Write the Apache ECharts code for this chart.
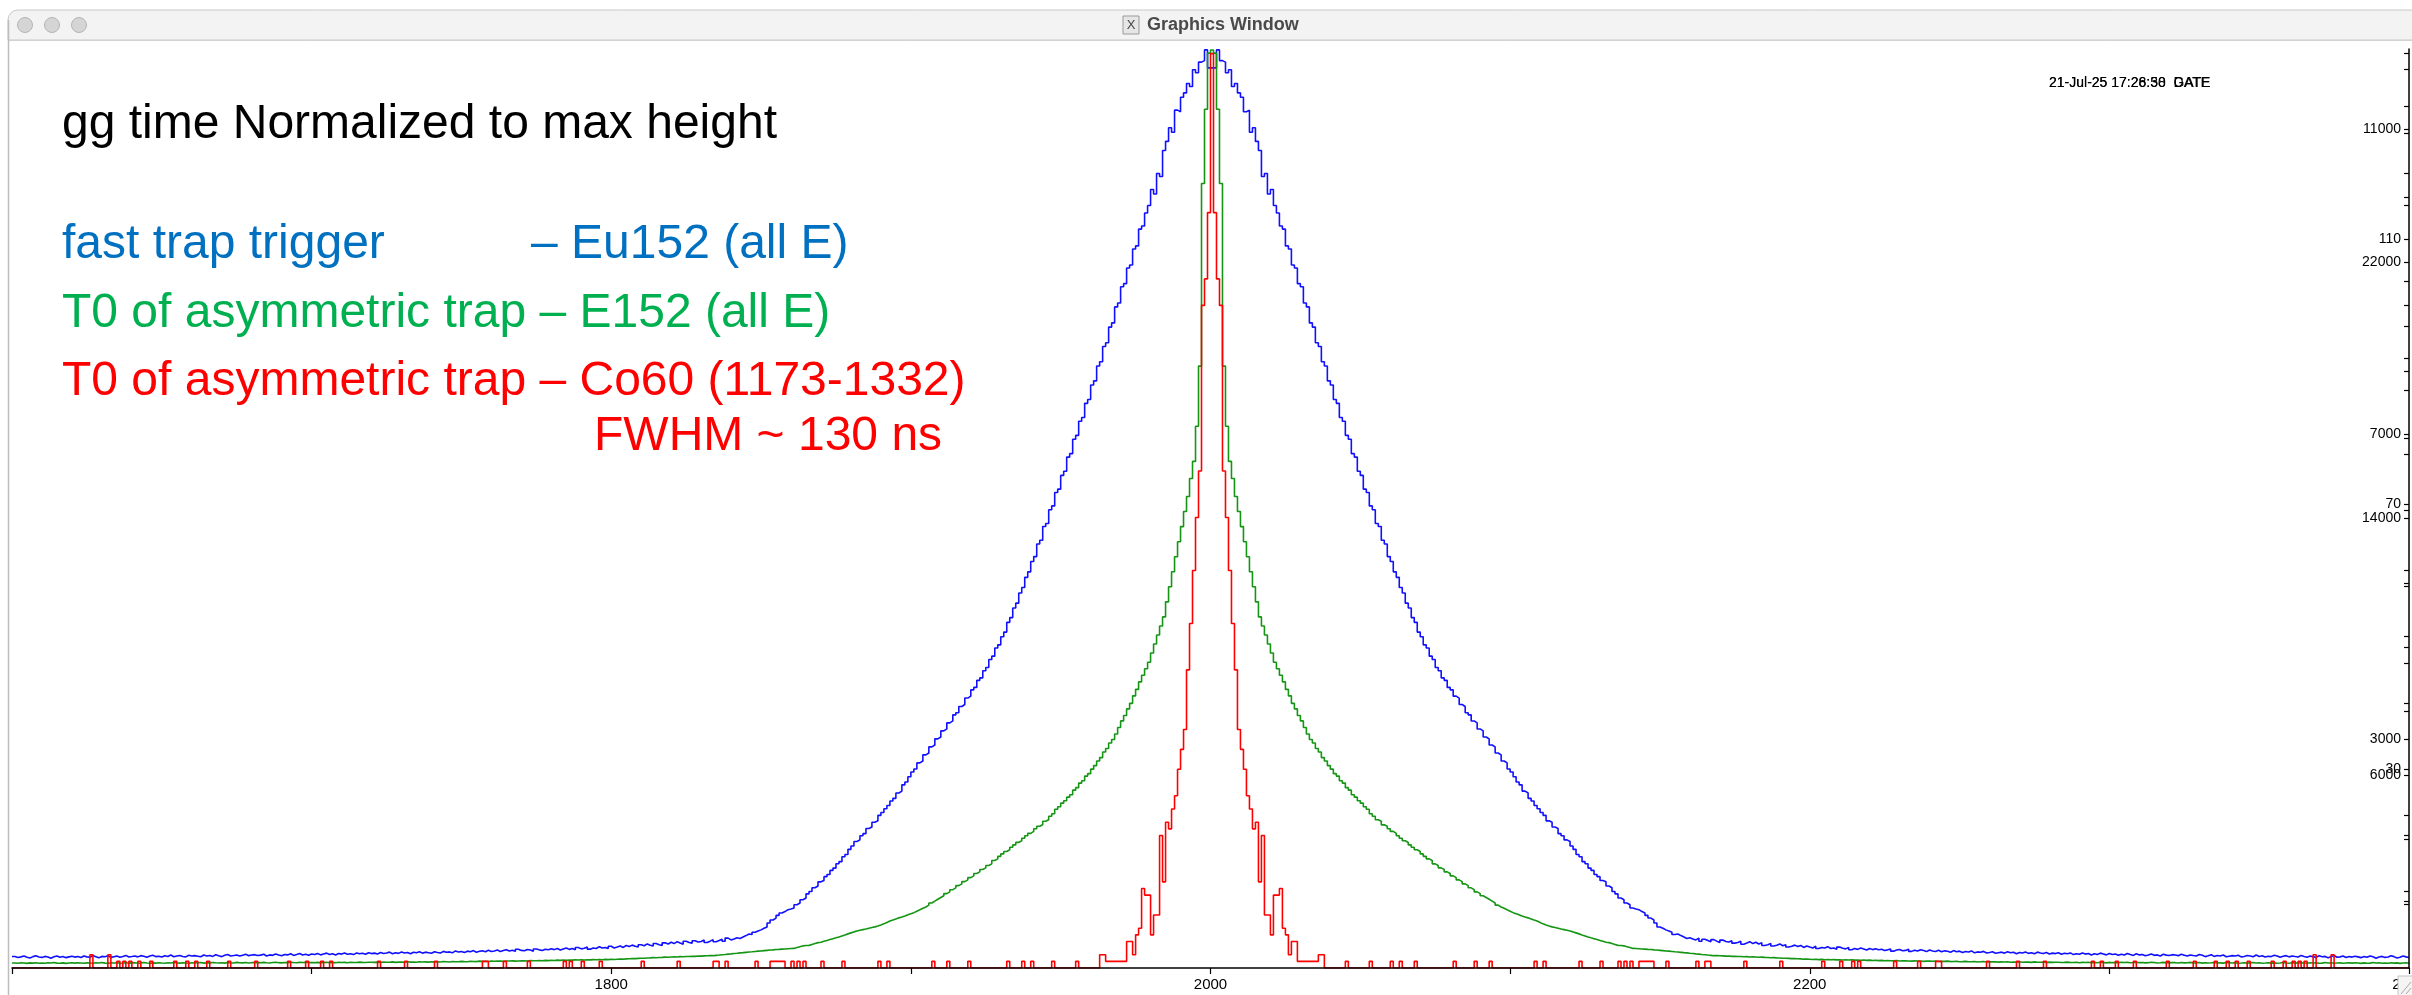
<!DOCTYPE html>
<html><head><meta charset="utf-8">
<script src="https://cdn.jsdelivr.net/npm/echarts@6/dist/echarts.min.js"></script>
<style>html,body{margin:0;padding:0;background:#fff;overflow:hidden;} #c{width:2412px;height:995px;}</style>
</head><body><div id="c"></div>
<script>
// ---- axis / tick data ----
const binStart = 1600, binCenter = 2000, binEnd = 2400;
const xTickLabels = [1800, 2000, 2200, 2400];
const yLabelsA = [3000, 7000, 11000];
const yLabelsB = [6000, 14000, 22000];
const yLabelsC = [30, 70, 110];

// ---- histogram contents, bins 1600..2000 (gg time difference histograms are symmetric about bin 2000) ----
const blueLeft = [
150,138,146,157,141,132,149,161,144,139,152,145,128,147,158,140,151,136,146,155,
143,150,137,158,146,141,163,149,135,152,147,160,139,148,156,142,151,165,144,150,
158,146,162,153,140,157,166,149,155,143,161,152,170,147,158,164,151,146,167,157,
162,155,148,170,158,165,152,174,160,149,167,176,158,163,171,156,168,179,162,170,
175,163,169,181,158,172,166,184,170,161,178,172,186,165,176,190,171,180,168,183,
177,189,172,184,195,176,186,171,191,182,197,180,188,176,198,186,193,181,200,189,
195,184,202,190,197,208,186,199,192,210,196,204,187,206,199,214,195,208,201,193,
212,203,196,218,206,211,199,224,209,216,204,221,212,228,207,219,225,213,232,217,
224,236,215,229,240,222,233,218,245,231,226,242,235,221,249,238,230,246,239,252,
241,256,236,249,262,244,255,240,268,251,258,274,247,263,256,280,262,270,255,285,
262,274,288,270,295,281,300,286,276,305,292,316,298,288,322,306,296,330,314,338,
320,345,328,312,350,334,326,358,340,348,366,335,352,372,344,360,378,350,392,368,
380,396,388,407,425,446,440,468,485,500,522,538,590,630,655,690,721,740,765,775,
787,830,852,896,918,972,1003,1052,1076,1130,1148,1198,1226,1280,1310,1368,1395,1458,1488,1556,
1600,1658,1680,1735,1762,1830,1850,1912,1930,2002,2040,2088,2132,2190,2225,2295,2320,2402,2440,2508,
2571,2610,2690,2715,2795,2820,2900,2925,3005,3030,3110,3135,3215,3240,3320,3348,3430,3455,3540,3565,
3648,3680,3772,3805,3898,3940,4046,4090,4196,4238,4344,4405,4533,4595,4722,4785,4918,4990,5123,5195,
5330,5395,5560,5610,5790,5830,6010,6060,6235,6280,6460,6515,6700,6745,6935,6985,7170,7220,7405,7455,
7645,7700,7895,7950,8150,8200,8405,8460,8670,8720,8935,8975,9180,9220,9430,9470,9690,9730,9902,10000,
10210,10150,10420,10380,10720,10840,11020,10960,11250,11230,11420,11476,11600,11560,11780,11740,11880,11900,12040,11804,
11804
];
const greenLeft = [
156,150,162,156,144,159,153,166,150,156,147,162,156,169,153,150,159,144,156,162,
153,165,156,147,160,156,150,163,156,169,153,147,159,156,162,150,156,166,153,159,
162,150,156,169,156,147,160,153,166,156,150,162,156,172,159,153,163,156,150,166,
156,163,169,153,160,156,172,163,156,166,153,169,160,156,175,163,160,169,156,166,
172,160,166,175,163,156,169,178,166,160,172,166,181,169,163,175,169,178,166,172,
166,175,160,169,178,163,172,166,181,169,175,163,178,172,169,184,175,172,181,178,
175,184,172,188,178,181,191,175,184,188,181,194,184,188,178,197,188,191,184,194,
191,197,188,200,194,188,203,197,194,206,200,197,209,203,200,213,206,209,203,216,
209,216,213,206,219,216,222,213,219,228,222,216,231,225,228,234,225,238,231,241,
234,244,238,247,241,250,244,253,247,256,250,259,253,262,256,266,259,269,262,272,
266,272,278,275,284,288,294,291,300,306,303,313,316,322,319,328,331,338,334,344,
347,344,353,350,359,356,366,363,372,369,378,381,388,384,394,403,413,420,431,440,
453,460,472,478,488,497,506,516,525,531,541,550,559,566,575,581,588,594,600,606,
610,640,665,690,700,705,735,765,790,800,830,858,886,914,941,969,1000,1031,1063,1094,
1125,1150,1175,1195,1215,1240,1262,1281,1310,1340,1375,1420,1462,1495,1530,1562,1590,1622,1655,1690,
1725,1770,1815,1862,1900,1960,2025,2085,2140,2195,2250,2318,2372,2440,2498,2566,2620,2692,2745,2815,
2870,2945,2995,3070,3120,3195,3245,3350,3400,3478,3555,3630,3682,3760,3835,3912,3962,4040,4118,4195,
4255,4338,4415,4460,4570,4618,4728,4805,4945,5022,5135,5210,5322,5398,5540,5618,5760,5835,5978,6055,
6195,6305,6448,6555,6728,6838,7010,7118,7290,7492,7698,7868,8072,8245,8478,8680,8915,9118,9322,9525,
9813,10094,10375,10656,10938,11406,11875,12344,12813,13281,13750,14219,14688,15250,15781,16875,18750,24438,26750,28500,
28600
];
// red (Co60): isolated single counts in the tail [bin, count], and the dense core from bin 1963 to 2000
const redTail = [[1626,2],[1632,2],[1635,1],[1637,1],[1639,1],[1642,1],[1646,1],[1654,1],[1658,1],[1661,1],[1665,1],
[1672,1],[1681,1],[1692,1],[1698,1],[1703,1],[1706,1],[1722,1],[1731,1],[1741,1],[1757,1],[1758,1],[1764,1],[1772,1],
[1784,1],[1786,1],[1790,1],[1796,1],[1810,1],[1822,1],[1834,1],[1835,1],[1838,1],[1848,1],[1853,1],[1854,1],[1855,1],
[1856,1],[1857,1],[1860,1],[1862,1],[1864,1],[1870,1],[1877,1],[1889,1],[1892,1],[1907,1],[1912,1],[1919,1],[1932,1],
[1937,1],[1940,1],[1947,1],[1955,1]];
const redCoreStart = 1963;
const redCore = [2,2,1,1,1,1,1,1,1,4,4,2,5,6,12,11,11,5,8,8,20,13,22,21,24,26,30,33,36,45,52,60,68,75,100,104,114,138];

// ---- build full histograms ----
const nLeft = binCenter - binStart + 1;
const redLeft = new Array(nLeft).fill(0);
redTail.forEach(([b, c]) => { redLeft[b - binStart] = c; });
redCore.forEach((c, i) => { redLeft[redCoreStart + i - binStart] = c; });

function fullHist(left) {
  const out = [];
  for (let b = binStart; b < binEnd; b++) {
    const src = b <= binCenter ? b : 2 * binCenter - b;
    out.push([b, left[src - binStart]]);
  }
  out.push([binEnd, out[out.length - 1][1]]);
  return out;
}

const FONT = '"Liberation Sans", Arial, Helvetica, sans-serif';
const chart = echarts.init(document.getElementById('c'), null, {renderer: 'canvas'});

function yAxisDef(max, interval, labels, showLine) {
  return {
    type: 'value', position: 'right', offset: 0, min: 0, max: max, interval: interval,
    axisLine: {show: showLine, onZero: false, lineStyle: {color: '#000', width: 1.5}},
    axisTick: {show: true, inside: true, length: 5, lineStyle: {color: '#000', width: 1.2}},
    axisLabel: {inside: true, margin: 8, fontSize: 14, color: '#000', fontFamily: FONT,
      showMinLabel: false, showMaxLabel: false,
      formatter: v => labels.indexOf(Math.round(v)) >= 0 ? String(Math.round(v)) : ''},
    splitLine: {show: false}, z: 10
  };
}

const grafs = [];
// window chrome
grafs.push({type: 'rect', shape: {x: 8, y: 10, width: 2420, height: 30, r: [10, 10, 0, 0]},
  style: {fill: '#f3f3f3', stroke: '#c9c9c9', lineWidth: 1}, z: 100});
grafs.push({type: 'line', shape: {x1: 8, y1: 40.5, x2: 2412, y2: 40.5}, style: {stroke: '#d2d2d2', lineWidth: 1}, z: 101});
grafs.push({type: 'line', shape: {x1: 8.5, y1: 20, x2: 8.5, y2: 995}, style: {stroke: '#bdbdbd', lineWidth: 1.5}, z: 101});
[25, 52, 79].forEach(cx => grafs.push({type: 'circle', shape: {cx: cx, cy: 25, r: 7.5},
  style: {fill: '#d5d5d5', stroke: '#b5b5b5', lineWidth: 1}, z: 102}));
grafs.push({type: 'rect', shape: {x: 1123, y: 16, width: 16, height: 18}, style: {fill: '#e6e6e6', stroke: '#9a9a9a', lineWidth: 1}, z: 102});
grafs.push({type: 'text', style: {text: 'X', x: 1131, y: 25.5, font: '13px ' + FONT, fill: '#444', align: 'center', verticalAlign: 'middle', textAlign: 'center', textVerticalAlign: 'middle'}, z: 103});
grafs.push({type: 'text', style: {text: 'Graphics Window', x: 1147, y: 25.5, font: 'bold 18px ' + FONT, fill: '#4a4a4a', align: 'left', verticalAlign: 'middle', textAlign: 'left', textVerticalAlign: 'middle'}, z: 103});
// resize grip
grafs.push({type: 'rect', shape: {x: 2398, y: 976, width: 16, height: 20}, style: {fill: '#f4f4f4', stroke: '#c4c4c4', lineWidth: 1}, z: 100});
grafs.push({type: 'line', shape: {x1: 2401, y1: 994, x2: 2411, y2: 982}, style: {stroke: '#a8a8a8', lineWidth: 1}, z: 101});
grafs.push({type: 'line', shape: {x1: 2406, y1: 994, x2: 2411, y2: 988}, style: {stroke: '#a8a8a8', lineWidth: 1}, z: 101});
// annotations
function txt(text, x, y, size, color) {
  grafs.push({type: 'text', z: 50, style: {text: text, x: x, y: y, font: size + 'px ' + FONT, fill: color,
    align: 'left', verticalAlign: 'middle', textAlign: 'left', textVerticalAlign: 'middle'}});
}
txt('gg time Normalized to max height', 62, 125, 48, '#000000');
txt('fast trap trigger', 62, 245, 48, '#0070C0');
txt('\u2013 Eu152 (all E)', 531, 245, 48, '#0070C0');
txt('T0 of asymmetric trap \u2013 E152 (all E)', 62, 314, 48, '#00B050');
txt('T0 of asymmetric trap \u2013 Co60 (1173-1332)', 62, 382, 48, '#FF0000');
txt('FWHM ~ 130 ns', 594, 437, 48, '#FF0000');
txt('21-Jul-25 17:26:58  DATE', 2049, 83, 14, '#000');
txt('21-Jul-25 17:28:30  GATE', 2049, 83, 14, '#000');

const option = {
  backgroundColor: '#ffffff',
  animation: false,
  grid: {left: 12, right: 3, top: 49, bottom: 27, containLabel: false, outerBoundsMode: 'none'},
  xAxis: {
    type: 'value', min: binStart, max: binEnd, interval: 100,
    axisLine: {show: true, onZero: false, lineStyle: {color: '#000', width: 1.5}},
    axisTick: {show: true, length: 6, lineStyle: {color: '#000', width: 1.2}},
    axisLabel: {fontSize: 15, color: '#000', margin: 9, fontFamily: FONT,
      formatter: v => xTickLabels.indexOf(v) >= 0 ? String(v) : ''},
    splitLine: {show: false}, z: 10
  },
  yAxis: [
    yAxisDef(12052, 1000, yLabelsA, true),
    yAxisDef(28629, 2000, yLabelsB, false),
    yAxisDef(138.7, 10, yLabelsC, false)
  ],
  series: [
    {type: 'line', name: 'fast trap trigger', yAxisIndex: 0, step: 'end', data: fullHist(blueLeft),
      showSymbol: false, symbol: 'none', silent: true, lineStyle: {color: '#1010ff', width: 1.6}, z: 3},
    {type: 'line', name: 'T0 asym E152', yAxisIndex: 1, step: 'end', data: fullHist(greenLeft),
      showSymbol: false, symbol: 'none', silent: true, lineStyle: {color: '#149614', width: 1.6}, z: 4},
    {type: 'line', name: 'T0 asym Co60', yAxisIndex: 2, step: 'end', data: fullHist(redLeft),
      showSymbol: false, symbol: 'none', silent: true, lineStyle: {color: '#ff0000', width: 1.6}, z: 5}
  ],
  graphic: {elements: grafs}
};
chart.setOption(option);
</script>
</body></html>
